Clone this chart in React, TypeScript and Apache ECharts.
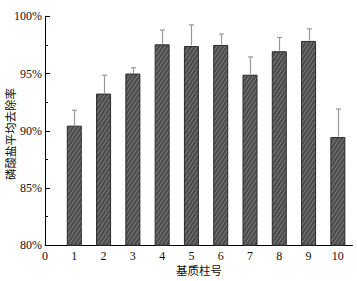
import React, { useEffect, useRef } from "react";
import * as echarts from "echarts";

const columns = [1, 2, 3, 4, 5, 6, 7, 8, 9, 10];
const removalRates = [90.45, 93.25, 95.0, 97.55, 97.4, 97.5, 94.9, 96.95, 97.85, 89.45];
const errorUpper = [1.35, 1.6, 0.5, 1.25, 1.85, 0.95, 1.55, 1.2, 1.05, 2.45];
const yTicks = [80, 85, 90, 95, 100];
const xTitle = "基质柱号";
const yTitle = "磷酸盐平均去除率";

function makePattern(): HTMLCanvasElement {
  const c = document.createElement("canvas");
  c.width = 4;
  c.height = 6;
  const ctx = c.getContext("2d")!;
  ctx.fillStyle = "#4e4e4e";
  ctx.fillRect(0, 0, 4, 6);
  ctx.strokeStyle = "#8a8a8a";
  ctx.lineWidth = 0.8;
  ctx.beginPath();
  ctx.moveTo(-1, 7.5);
  ctx.lineTo(5, -1.5);
  ctx.stroke();
  ctx.beginPath();
  ctx.moveTo(-3, 4.5);
  ctx.lineTo(1, -1.5);
  ctx.stroke();
  ctx.beginPath();
  ctx.moveTo(3, 10.5);
  ctx.lineTo(7, 4.5);
  ctx.stroke();
  return c;
}

export default function App() {
  const ref = useRef<HTMLDivElement>(null);
  useEffect(() => {
    if (!ref.current) return;
    const chart = echarts.init(ref.current, undefined, { renderer: "svg" });
    const serif = "'Liberation Serif', 'Times New Roman', serif";
    const cjk = "'Noto Sans CJK SC', sans-serif";
    const pattern = makePattern();
    chart.setOption({
      animation: false,
      backgroundColor: "#ffffff",
      grid: { left: 45, right: 4.5, top: 16.3, bottom: 35.7, containLabel: false },
      xAxis: {
        type: "value",
        min: 0,
        max: 10.5,
        interval: 1,
        axisLine: { show: true, lineStyle: { color: "#000", width: 1 } },
        axisTick: { show: false },
        splitLine: { show: false },
        axisLabel: {
          show: true,
          showMaxLabel: false,
          margin: 5,
          color: "#111",
          fontFamily: serif,
          fontSize: 12,
        },
      },
      yAxis: {
        type: "value",
        min: yTicks[0],
        max: yTicks[yTicks.length - 1],
        interval: 5,
        axisLine: { show: true, lineStyle: { color: "#000", width: 1 } },
        axisTick: { show: true, inside: true, length: 5, lineStyle: { color: "#000" } },
        minorTick: { show: true, splitNumber: 2, length: 3, lineStyle: { color: "#000" } },
        splitLine: { show: false },
        axisLabel: {
          margin: 3,
          color: "#111",
          fontFamily: serif,
          fontSize: 12,
          formatter: (v: number) => `${v}%`,
        },
      },
      series: [
        {
          type: "bar",
          barWidth: 15,
          data: columns.map((c, i) => [c, removalRates[i]]),
          itemStyle: {
            color: { image: pattern, repeat: "repeat" },
            borderColor: "#2a2a2a",
            borderWidth: 1,
          },
          z: 2,
        },
        {
          type: "custom",
          z: 3,
          data: columns.map((c, i) => [c, removalRates[i], removalRates[i] + errorUpper[i]]),
          renderItem: (params: any, api: any) => {
            const base = api.coord([api.value(0), api.value(1)]);
            const top = api.coord([api.value(0), api.value(2)]);
            const x = Math.round(base[0]) + 0.5;
            return {
              type: "group",
              children: [
                {
                  type: "line",
                  shape: { x1: x, y1: base[1] - 0.5, x2: x, y2: top[1] },
                  style: { stroke: "#999", lineWidth: 1.2 },
                },
                {
                  type: "line",
                  shape: { x1: x - 2.5, y1: top[1], x2: x + 2.5, y2: top[1] },
                  style: { stroke: "#999", lineWidth: 1.2 },
                },
              ],
            };
          },
        },
      ],
      graphic: [
        {
          type: "text",
          x: 10,
          y: 134,
          rotation: Math.PI / 2,
          style: {
            text: yTitle,
            fontFamily: cjk,
            fontSize: 11.5,
            fill: "#111",
            textAlign: "center",
            textVerticalAlign: "middle",
          },
        },
        {
          type: "text",
          x: 199,
          y: 270,
          style: {
            text: xTitle,
            fontFamily: cjk,
            fontSize: 11.5,
            fill: "#111",
            textAlign: "center",
            textVerticalAlign: "middle",
          },
        },
      ],
    });
    return () => chart.dispose();
  }, []);
  return <div ref={ref} style={{ width: 357, height: 281, position: "absolute", left: 0, top: 0 }} />;
}
